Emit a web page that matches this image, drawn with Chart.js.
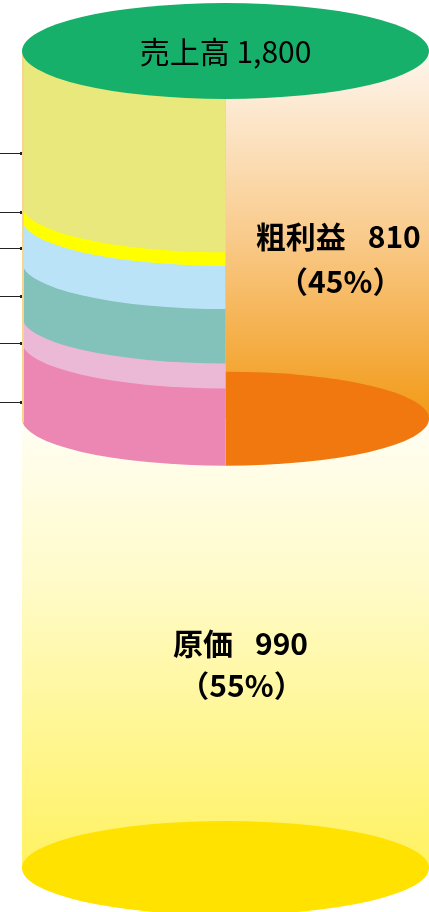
<!DOCTYPE html>
<html lang="ja">
<head>
<meta charset="utf-8">
<script src="https://cdn.jsdelivr.net/npm/chart.js@4.4.1/dist/chart.umd.min.js"></script>
<style>
  html, body { margin: 0; padding: 0; background: #fff; }
  #wrap { width: 429px; height: 912px; position: relative; }
</style>
</head>
<body>
<div id="wrap"><canvas id="cylinderChart"></canvas></div>
<script>
// 데이터
const salesTotal = 1800;
const costValue = 990;
const profitValue = 810;
const sides = ["left", "right"];
// 粗利益の内訳 (下から上へ)
const breakdownNames = ["内訳1", "内訳2", "内訳3", "内訳4", "内訳5", "内訳6"];
const breakdownValues = [170, 55, 120, 95, 30, 340];
const breakdownColors = ["#EC87B3", "#EBB9D5", "#83C1BB", "#BAE3F7", "#FFFF00", "#E8E87C"];
// 左側の引き出し線の位置 (値)
const leaderValues = [1575, 1445, 1366, 1260, 1157, 1027];

const FONT = '"Noto Sans CJK JP", "Noto Sans", sans-serif';

// 名前と数字を間隔をあけて中央揃えで描く
function drawPair(ctx, name, num, x, y, gap) {
    const w1 = ctx.measureText(name).width;
    const w2 = ctx.measureText(num).width;
    const start = x - (w1 + gap + w2) / 2;
    ctx.textAlign = "left";
    ctx.fillText(name, start, y);
    ctx.fillText(num, start + w1 + gap, y);
    ctx.textAlign = "center";
}

// 円柱の描画
const cylinderPlugin = {
    id: "cylinder",
    afterDatasetsDraw(chart) {
        const { ctx, scales: { y } } = chart;
        const costMeta = chart.getDatasetMeta(0);
        const leftBar = costMeta.data[0];
        const rightBar = costMeta.data[1];
        const xL = leftBar.x - leftBar.width / 2;
        const cx = rightBar.x - rightBar.width / 2;
        const xR = rightBar.x + rightBar.width / 2;
        const rx = cx - xL;
        const ry = 47;
        const yTop = y.getPixelForValue(salesTotal);
        const yCut = leftBar.y;
        const yBottom = leftBar.base;

        ctx.save();

        // 原価 (本体)
        let g = ctx.createLinearGradient(0, yCut, 0, yBottom);
        g.addColorStop(0, "#FFFEF4");
        g.addColorStop(0.35, "#FFFBCB");
        g.addColorStop(1, "#FFF262");
        ctx.fillStyle = g;
        ctx.fillRect(xL, yCut, xR - xL + 1, yBottom - yCut);
        ctx.fillStyle = "#FFE200";
        ctx.beginPath();
        ctx.ellipse(cx, yBottom, rx, ry, 0, 0, Math.PI * 2);
        ctx.fill();

        // 粗利益 (右半分)
        const pBar = chart.getDatasetMeta(chart.data.datasets.length - 1).data[1];
        g = ctx.createLinearGradient(0, pBar.y, 0, pBar.base);
        g.addColorStop(0, "#FEF6EE");
        g.addColorStop(0.5, "#F9CB8C");
        g.addColorStop(1, "#F29A16");
        ctx.fillStyle = g;
        ctx.fillRect(cx, pBar.y, xR - cx + 1, pBar.base - pBar.y);
        ctx.save();
        ctx.beginPath();
        ctx.rect(cx, pBar.base - ry - 2, xR - cx + 2, ry * 2 + 4);
        ctx.clip();
        ctx.fillStyle = "#F0780F";
        ctx.beginPath();
        ctx.ellipse(cx, pBar.base, rx, ry, 0, 0, Math.PI * 2);
        ctx.fill();
        ctx.restore();

        // 内訳 (左半分) 下の帯から順に塗る
        breakdownValues.forEach((v, i) => {
            const el = chart.getDatasetMeta(i + 1).data[0];
            ctx.fillStyle = breakdownColors[i];
            ctx.beginPath();
            ctx.moveTo(xL, yTop);
            ctx.lineTo(xL, el.base);
            ctx.ellipse(cx, el.base, rx, ry, 0, Math.PI, Math.PI / 2, true);
            ctx.lineTo(cx, yTop);
            ctx.closePath();
            ctx.fill();
        });

        // 左端の縁
        ctx.strokeStyle = "#F6D58E";
        ctx.lineWidth = 2;
        ctx.beginPath();
        ctx.moveTo(xL + 1, yTop);
        ctx.lineTo(xL + 1, yCut + 4);
        ctx.stroke();

        // 上面
        ctx.fillStyle = "#16B06B";
        ctx.beginPath();
        ctx.ellipse(cx, yTop, rx, 48, 0, 0, Math.PI * 2);
        ctx.fill();

        // 引き出し線
        ctx.strokeStyle = "#222";
        ctx.lineWidth = 1;
        ctx.fillStyle = "#222";
        leaderValues.forEach(v => {
            const py = Math.round(y.getPixelForValue(v)) + 0.5;
            ctx.beginPath();
            ctx.moveTo(0, py);
            ctx.lineTo(xL - 1, py);
            ctx.stroke();
            ctx.fillRect(xL - 2, py - 1.5, 2, 3);
        });

        // テキスト
        ctx.fillStyle = "#000";
        ctx.textAlign = "center";
        ctx.textBaseline = "middle";
        ctx.font = "30px " + FONT;
        ctx.fillText("売上高 " + salesTotal.toLocaleString("en-US"), cx, yTop + 1);

        const pct = v => Math.round(v / salesTotal * 100) + "%";
        ctx.font = "bold 30px " + FONT;
        const px = cx + (xR - cx) / 2 + 11;
        drawPair(ctx, "粗利益", String(profitValue), px, yTop + 186, 22);
        ctx.fillText("（" + pct(profitValue) + "）", px + 2, yTop + 231);
        drawPair(ctx, "原価", String(costValue), cx + 15, yTop + 593, 22);
        ctx.fillText("（" + pct(costValue) + "）", cx + 16, yTop + 635);

        ctx.restore();
    }
};

const datasets = [
    { label: "原価", data: [costValue, costValue] }
];
breakdownValues.forEach((v, i) => {
    datasets.push({ label: breakdownNames[i], data: [v, null] });
});
datasets.push({ label: "粗利益", data: [null, profitValue] });
datasets.forEach(d => {
    d.backgroundColor = "rgba(0,0,0,0)";
    d.borderWidth = 0;
    d.stack = "s";
    d.barPercentage = 1;
    d.categoryPercentage = 1;
});

const ctx = document.getElementById("cylinderChart").getContext("2d");
new Chart(ctx, {
    type: "bar",
    data: { labels: sides, datasets: datasets },
    options: {
        responsive: true,
        maintainAspectRatio: false,
        animation: false,
        layout: { padding: { left: 22, right: 0, top: 51, bottom: 44 } },
        scales: {
            x: { display: false, stacked: true },
            y: { display: false, stacked: true, min: 0, max: salesTotal }
        },
        plugins: {
            legend: { display: false },
            tooltip: { enabled: false }
        }
    },
    plugins: [cylinderPlugin]
});
</script>
</body>
</html>
